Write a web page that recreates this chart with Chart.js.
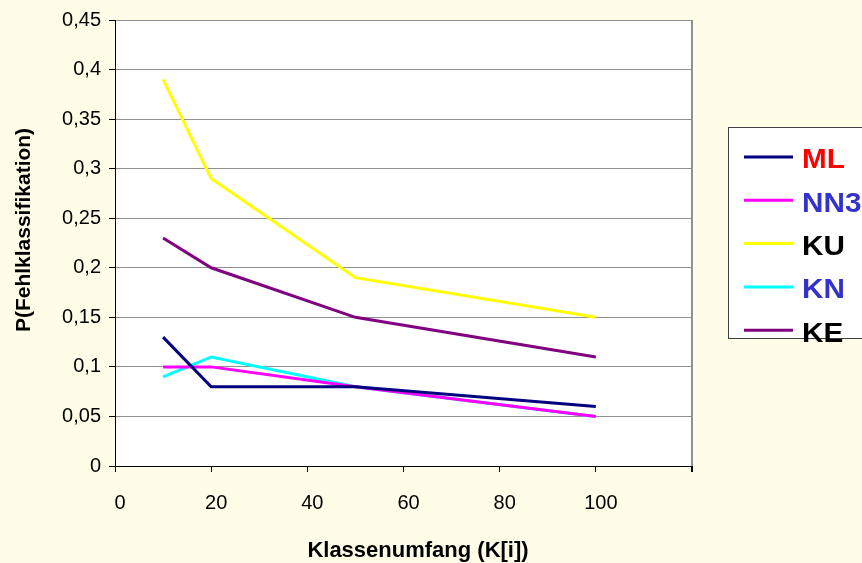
<!DOCTYPE html>
<html>
<head>
<meta charset="utf-8">
<script src="https://cdn.jsdelivr.net/npm/chart.js@4/dist/chart.umd.min.js"></script>
<style>
html,body{margin:0;padding:0;background:#FFFDE8}
#wrap{width:862px;height:563px;position:relative}
</style>
</head>
<body>
<div id="wrap"><canvas id="chart" width="862" height="563"></canvas></div>
<script>
const FONT="'Liberation Sans', Arial, sans-serif"

// Klassenumfang
const K=[10,20,50,100]

const seriesNames=["ML","NN3","KU","KN","KE"]
const lineColors=["#000080","#FF00FF","#FFFF00","#00FFFF","#800080"]
const labelColors=["#FF0000","#3333CC","#000000","#3333CC","#000000"]

const ML=[0.13,0.08,0.08,0.06]
const NN3=[0.10,0.10,0.08,0.05]
const KU=[0.39,0.29,0.19,0.15]
const KN=[0.09,0.11,0.08,0.05]
const KE=[0.23,0.20,0.15,0.11]

const values=[ML,NN3,KU,KN,KE]

const xTicks=[0,20,40,60,80,100,120]
const yTicks=[0,0.05,0.1,0.15,0.2,0.25,0.3,0.35,0.4,0.45]

const xTitle="Klassenumfang (K[i])"
const yTitle="P(Fehlklassifikation)"

const datasets=values.map((v,i)=>({
label:seriesNames[i],
data:v.map((y,j)=>({x:K[j],y:y})),
borderColor:lineColors[i],
backgroundColor:lineColors[i],
borderWidth:3,
pointRadius:0,
tension:0
}))

// legend box on the right, drawn by hand (text a bit wide, like the old office charts)
const boxLegend={
id:"boxLegend",
afterDraw(chart){
const c=chart.ctx
c.save()
c.strokeStyle="#404040"
c.lineWidth=1
c.fillStyle="#FFFFFF"
c.fillRect(728.5,127.5,160,211)
c.strokeRect(728.5,127.5,160,211)
chart.data.datasets.forEach((ds,i)=>{
const y=157+i*43.3
c.strokeStyle=ds.borderColor
c.lineWidth=3
c.beginPath()
c.moveTo(744,y)
c.lineTo(793,y)
c.stroke()
c.save()
c.translate(802,y+4)
c.scale(1.1,1)
c.font="bold 27px "+FONT
c.textBaseline="middle"
c.fillStyle=labelColors[i]
c.fillText(ds.label,0,0)
c.restore()
})
c.restore()
}
}

// axis titles
const axisTitles={
id:"axisTitles",
afterDraw(chart){
const c=chart.ctx
c.save()
c.fillStyle="#000000"
c.textAlign="center"
c.textBaseline="middle"
c.font="bold 22px "+FONT
c.fillText(xTitle,418,551)
c.translate(24,230)
c.rotate(-Math.PI/2)
c.font="bold 21px "+FONT
c.fillText(yTitle,0,0)
c.restore()
}
}

// white plot background
const plotBg={
id:"plotBg",
beforeDraw(chart){
const a=chart.chartArea
const c=chart.ctx
c.save()
c.fillStyle="#FFFFFF"
c.fillRect(a.left,a.top,a.right-a.left,a.bottom-a.top)
c.restore()
}
}

new Chart(document.getElementById("chart"),{
type:"line",
data:{datasets:datasets},
plugins:[plotBg,boxLegend,axisTitles],
options:{
responsive:false,
animation:false,
layout:{padding:{left:0,right:170,top:18,bottom:0}},
plugins:{legend:{display:false},tooltip:{enabled:false}},
scales:{
x:{
type:"linear",
min:0,max:120,
afterBuildTicks(s){s.ticks=xTicks.map(v=>({value:v}))},
afterFit(s){s.height=97},
ticks:{
color:"#000000",
font:{family:FONT,size:20},
padding:19,
labelOffset:5,
maxRotation:0,
autoSkip:false,
callback:v=>v===120?"":String(v)
},
grid:{
drawOnChartArea:true,
color:ctx=>ctx.tick&&ctx.tick.value===120?"#909090":"transparent",
lineWidth:ctx=>ctx.tick&&ctx.tick.value===120?2:1,
tickColor:"#000000",
tickLength:6
},
border:{color:"#000000",width:1},
title:{display:false}
},
y:{
min:0,max:0.45,
afterBuildTicks(s){s.ticks=yTicks.map(v=>({value:v}))},
afterFit(s){s.width=115},
ticks:{
color:"#000000",
font:{family:FONT,size:20},
padding:8,
autoSkip:false,
callback:v=>String(Math.round(v*100)/100).replace(".",",")
},
grid:{
color:"#909090",
tickColor:"#000000",
tickLength:6
},
border:{color:"#000000",width:1},
title:{display:false}
}
}
}
})
</script>
</body>
</html>
